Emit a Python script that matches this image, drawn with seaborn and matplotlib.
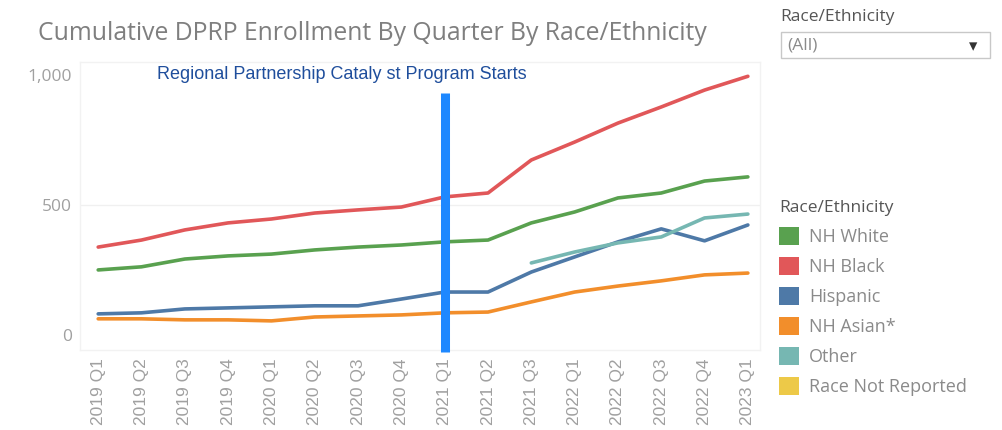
import numpy as np
import pandas as pd
import matplotlib
matplotlib.use("Agg")
import matplotlib.pyplot as plt
from matplotlib.patches import Patch, Rectangle
import seaborn as sns

# ---- data ----
quarters = ["2019 Q1", "2019 Q2", "2019 Q3", "2019 Q4",
            "2020 Q1", "2020 Q2", "2020 Q3", "2020 Q4",
            "2021 Q1", "2021 Q2", "2021 Q3",
            "2022 Q1", "2022 Q2", "2022 Q3", "2022 Q4",
            "2023 Q1"]
nh_white = [250, 262, 292, 304, 311, 327, 338, 346, 358, 365, 431, 473, 527, 546, 592, 608]
nh_black = [338, 365, 404, 431, 446, 469, 481, 492, 531, 546, 673, 742, 815, 877, 942, 995]
hispanic = [81, 85, 100, 104, 108, 112, 112, 138, 165, 165, 242, 300, 358, 408, 362, 423]
nh_asian = [62, 62, 58, 58, 54, 69, 73, 77, 85, 88, 127, 165, 188, 208, 231, 238]
other = [np.nan] * 10 + [277, 319, 354, 377, 450, 465]
race_not_reported = [np.nan] * 16

groups = ["NH White", "NH Black", "Hispanic", "NH Asian*", "Other", "Race Not Reported"]
colors = ["#59A14F", "#E15759", "#4E79A7", "#F28E2B", "#76B7B2", "#EDC948"]
y_ticks = [0, 500, 1000]
marker_quarter = "2021 Q1"
annotation = "Regional Partnership Cataly st Program Starts"
title = "Cumulative DPRP Enrollment By Quarter By Race/Ethnicity"

series = [nh_white, nh_black, hispanic, nh_asian, other, race_not_reported]
rows = []
for g, vals in zip(groups, series):
    for i, (q, v) in enumerate(zip(quarters, vals)):
        rows.append({"idx": i, "quarter": q, "group": g, "value": v})
df = pd.DataFrame(rows).dropna(subset=["value"])

# ---- figure ----
sns.set_theme(style="white")
plt.rcParams["font.family"] = ["Open Sans", "DejaVu Sans"]

fig = plt.figure(figsize=(10.02, 4.30), dpi=100)
ax = fig.add_axes([80 / 1002, 1 - 350 / 430, 680 / 1002, 288 / 430])

palette = dict(zip(groups, colors))
sns.lineplot(data=df, x="idx", y="value", hue="group", hue_order=groups,
             palette=palette, linewidth=2.6, ax=ax, legend=False, sort=True)

ax.set_xlim(-0.42, len(quarters) - 1 + 0.28)
ax.set_ylim(-58, 1050)
ax.set_xticks(range(len(quarters)))
ax.set_xticklabels(quarters, rotation=90, fontsize=12.5, color="#a0a0a0",
                   family=["Liberation Sans", "DejaVu Sans"])
ax.set_yticks(y_ticks)
ax.set_yticklabels([f"{v:,}" for v in y_ticks], fontsize=12.5, color="#a0a0a0")
ax.tick_params(axis="both", length=0, pad=6)
ax.set_xlabel("")
ax.set_ylabel("")
ax.yaxis.grid(False)
ax.axhline(500, color="#f0f0f0", lw=1, zorder=0)
for s in ax.spines.values():
    s.set_color("#f2f2f2")
    s.set_linewidth(1)

# vertical program-start marker
mx = quarters.index(marker_quarter)
ax.plot([mx, mx], [-65, 931], color="#1E88FF", lw=6.5, solid_capstyle="butt",
        clip_on=False, zorder=5)
ax.text(5.63, 1000, annotation, ha="center", va="center", fontsize=13,
        color="#1F4E9C", family=["Liberation Sans", "DejaVu Sans"])

# title
fig.text(38 / 1002, 1 - 33 / 430, title, ha="left", va="center",
         fontsize=17.8, color="#7f7f7f")

# filter control
fig.text(780 / 1002, 1 - 17 / 430, "Race/Ethnicity", ha="left", va="center",
         fontsize=12.5, color="#555555")
fig.patches.append(Rectangle((781 / 1002, 1 - 58 / 430), 209 / 1002, 26 / 430,
                             transform=fig.transFigure, facecolor="white",
                             edgecolor="#c8c8c8", lw=1))
fig.text(787 / 1002, 1 - 45 / 430, "(All)", ha="left", va="center",
         fontsize=12.5, color="#8a8a8a")
fig.text(973 / 1002, 1 - 46 / 430, "\u25BE", ha="center", va="center",
         fontsize=12, color="#333333", family=["DejaVu Sans"])

# legend
handles = [Patch(facecolor=c, edgecolor="none") for c in colors]
leg = fig.legend(handles, groups, title="Race/Ethnicity", loc="upper left",
                 bbox_to_anchor=(772 / 1002, 1 - 193 / 430), frameon=False,
                 fontsize=13, title_fontsize=12.5, handlelength=1.1,
                 handleheight=1.1, handletextpad=0.55, labelspacing=0.62,
                 borderaxespad=0, alignment="left")
leg.get_title().set_color("#555555")
for t in leg.get_texts():
    t.set_color("#8a8a8a")

fig.savefig("out.png", dpi=100)
